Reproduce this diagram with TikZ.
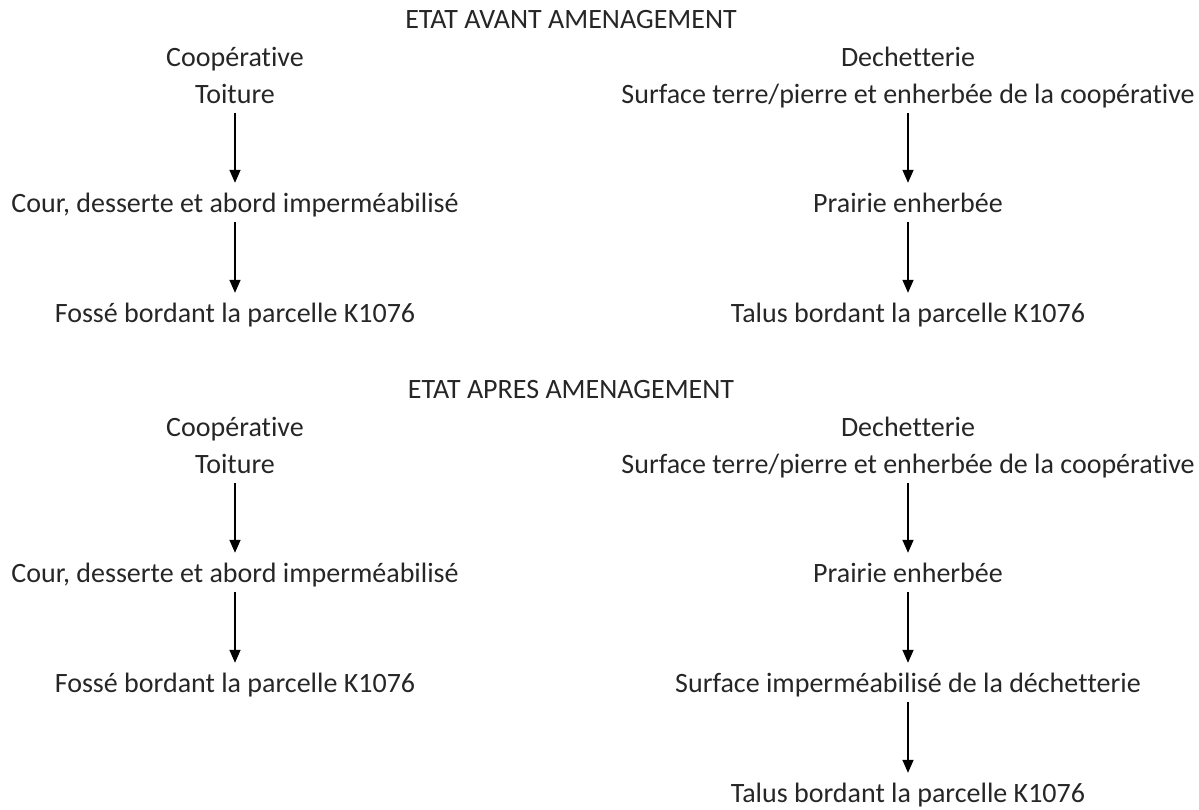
\documentclass[tikz,border=0pt]{standalone}
\usepackage{fontspec}
\setmainfont{Carlito}[Ligatures={NoCommon,NoContextual,NoRequired,NoRare},RawFeature={-liga;-clig;-calt;-dlig;-rlig}]
\usetikzlibrary{arrows.meta}
\newcommand\nolig{\kern0pt{}}
\begin{document}
\begin{tikzpicture}[x=1pt,y=-1pt,
  lbl/.style={font=\fontsize{28}{32}\selectfont, text=black!85, inner sep=0pt, text height=19pt, text depth=7pt, anchor=base},
  flow/.style={line width=1.5pt, -{Triangle[width=11pt,length=13pt]}, shorten <=3pt, shorten >=10pt}]
\useasboundingbox (0,0) rectangle (1199,809);
% top block
\node[lbl] (t1) at (571,28) {ETAT AVANT AMENAGEMENT};
\node[lbl] (c1) at (235,66) {Coopérat\nolig ive};
\node[lbl] (a1) at (235,103) {Toiture};
\node[lbl] (a2) at (235,212) {Cour, desserte et abord imperméabilisé};
\node[lbl] (a3) at (235,322) {Fossé bordant la parcelle K1076};
\node[lbl] (d1) at (908,66) {Dechet\nolig terie};
\node[lbl] (b1) at (908,103) {Surface terre/pierre et enherbée de la coopérat\nolig ive};
\node[lbl] (b2) at (908,212) {Prairie enherbée};
\node[lbl] (b3) at (908,322) {Talus bordant la parcelle K1076};
\draw[flow] (a1) -- (a2);
\draw[flow] (a2) -- (a3);
\draw[flow] (b1) -- (b2);
\draw[flow] (b2) -- (b3);
% bottom block
\node[lbl] (t2) at (571,398) {ETAT APRES AMENAGEMENT};
\node[lbl] (c2) at (235,436) {Coopérat\nolig ive};
\node[lbl] (e1) at (235,473) {Toiture};
\node[lbl] (e2) at (235,582) {Cour, desserte et abord imperméabilisé};
\node[lbl] (e3) at (235,692) {Fossé bordant la parcelle K1076};
\node[lbl] (d2) at (908,436) {Dechet\nolig terie};
\node[lbl] (f1) at (908,473) {Surface terre/pierre et enherbée de la coopérat\nolig ive};
\node[lbl] (f2) at (908,582) {Prairie enherbée};
\node[lbl] (f3) at (908,692) {Surface imperméabilisé de la déchet\nolig terie};
\node[lbl] (f4) at (908,802) {Talus bordant la parcelle K1076};
\draw[flow] (e1) -- (e2);
\draw[flow] (e2) -- (e3);
\draw[flow] (f1) -- (f2);
\draw[flow] (f2) -- (f3);
\draw[flow] (f3) -- (f4);
\end{tikzpicture}
\end{document}
